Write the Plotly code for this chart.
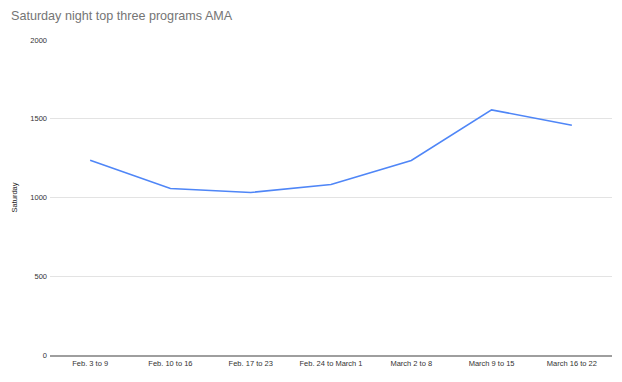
import plotly.graph_objects as go

categories = ["Feb. 3 to 9", "Feb. 10 to 16", "Feb. 17 to 23", "Feb. 24 to March 1",
              "March 2 to 8", "March 9 to 15", "March 16 to 22"]
saturday = [1236, 1057, 1032, 1083, 1235, 1556, 1459]
y_ticks = [0, 500, 1000, 1500, 2000]

fig = go.Figure()
fig.add_trace(go.Scatter(x=categories, y=saturday, mode="lines",
                         line=dict(color="#4f86f7", width=1.6), showlegend=False))

fig.update_layout(
    width=622, height=382,
    margin=dict(l=50, r=10, t=40, b=27, autoexpand=False),
    paper_bgcolor="white", plot_bgcolor="white",
    title=dict(text="Saturday night top three programs AMA", x=11 / 622, xanchor="left",
               y=1 - 15.5 / 382, yanchor="middle",
               font=dict(family="Arial, Liberation Sans", size=12.6, color="#757575")),
    font=dict(family="Arial, Liberation Sans", size=7.5, color="#333333"),
)
fig.update_xaxes(type="category", range=[-0.5, 6.5], showgrid=False, automargin=False,
                 showline=True, linecolor="#9e9e9e", linewidth=1.5,
                 ticks="", tickfont=dict(size=7.5, color="#333333"))
fig.update_yaxes(range=[0, 2000], tickvals=y_ticks, showgrid=True, automargin=False,
                 gridcolor="#e3e3e3", gridwidth=1, zeroline=False,
                 ticks="", ticklabelstandoff=2,
                 title=dict(text="Saturday", font=dict(size=7.5, color="#222222"), standoff=11),
                 tickfont=dict(size=7.5, color="#333333"))

fig.write_html("out.html", config={"displayModeBar": False},
               post_script="document.body.style.margin='0';")
